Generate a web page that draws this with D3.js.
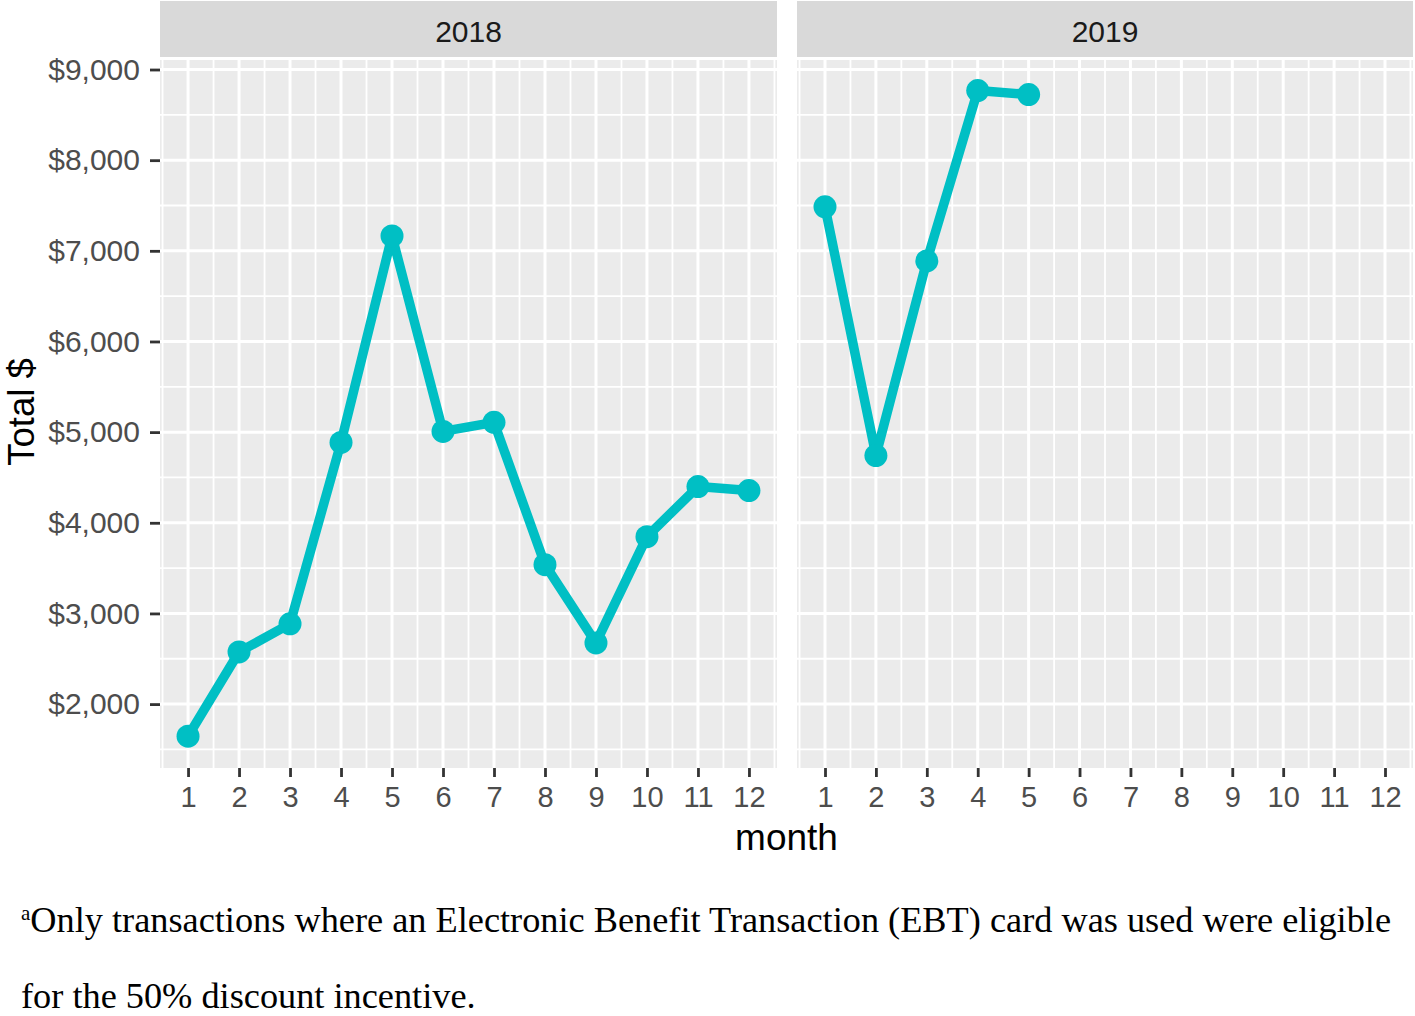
<!DOCTYPE html>
<html>
<head>
<meta charset="utf-8">
<script src="https://cdnjs.cloudflare.com/ajax/libs/d3/7.8.5/d3.min.js"></script>
<style>
  body { margin: 0; background: #fff; }
  svg { display: block; }
</style>
</head>
<body>
<svg id="chart"></svg>
<script>
const width = 1415;
const height = 1016;

// data
const years = ['2018', '2019'];
const months = [1, 2, 3, 4, 5, 6, 7, 8, 9, 10, 11, 12];
const total2018 = [1646, 2575, 2885, 4886, 7164, 5008, 5108, 3538, 2675, 3847, 4400, 4356];
const total2019 = [7485, 4742, 6888, 8768, 8724];
const yTicks = [2000, 3000, 4000, 5000, 6000, 7000, 8000, 9000];
const yMinor = [1500, 2500, 3500, 4500, 5500, 6500, 7500, 8500];
const footnote = [
  'Only transactions where an Electronic Benefit Transaction (EBT) card was used were eligible',
  'for the 50% discount incentive.'
];

const series = { '2018': total2018, '2019': total2019 };

const panelTop = 60;
const panelBottom = 768;
const panels = [{ x0: 160, x1: 777 }, { x0: 797, x1: 1413 }];
const stripTop = 1;
const sans = 'Liberation Sans, Arial, sans-serif';
const serif = 'Liberation Serif, Times New Roman, serif';

const svg = d3.select('#chart')
  .attr('width', width)
  .attr('height', height);

const y = d3.scaleLinear().domain([1295, 9105]).range([panelBottom, panelTop]);
const fmt = d3.format('$,');

years.forEach((yr, i) => {
  const p = panels[i];
  const x = d3.scaleLinear().domain([0.45, 12.55]).range([p.x0, p.x1]);
  const g = svg.append('g');

  // strip
  g.append('rect')
    .attr('x', p.x0).attr('y', stripTop)
    .attr('width', p.x1 - p.x0).attr('height', panelTop - 3 - stripTop)
    .attr('fill', '#d9d9d9');
  g.append('text')
    .attr('x', (p.x0 + p.x1) / 2).attr('y', 31)
    .attr('text-anchor', 'middle').attr('dominant-baseline', 'central')
    .attr('font-family', sans)
    .attr('font-size', 30).attr('fill', '#1a1a1a')
    .text(yr);

  // panel
  g.append('rect')
    .attr('x', p.x0).attr('y', panelTop)
    .attr('width', p.x1 - p.x0).attr('height', panelBottom - panelTop)
    .attr('fill', '#ebebeb');

  const xMinor = months.map(m => m + 0.5).concat([0.5]);
  g.selectAll('.vminor').data(xMinor).enter().append('line')
    .attr('x1', d => x(d)).attr('x2', d => x(d))
    .attr('y1', panelTop).attr('y2', panelBottom)
    .attr('stroke', '#fff').attr('stroke-width', 1.8);
  g.selectAll('.hminor').data(yMinor).enter().append('line')
    .attr('x1', p.x0).attr('x2', p.x1)
    .attr('y1', d => y(d)).attr('y2', d => y(d))
    .attr('stroke', '#fff').attr('stroke-width', 1.8);
  g.selectAll('.vmajor').data(months).enter().append('line')
    .attr('x1', d => x(d)).attr('x2', d => x(d))
    .attr('y1', panelTop).attr('y2', panelBottom)
    .attr('stroke', '#fff').attr('stroke-width', 3);
  g.selectAll('.hmajor').data(yTicks).enter().append('line')
    .attr('x1', p.x0).attr('x2', p.x1)
    .attr('y1', d => y(d)).attr('y2', d => y(d))
    .attr('stroke', '#fff').attr('stroke-width', 3);

  // x axis
  const xAxis = g.append('g')
    .attr('transform', `translate(0, ${panelBottom})`)
    .call(d3.axisBottom(x).tickValues(months).tickSize(9).tickPadding(9).tickFormat(d3.format('d')));
  xAxis.select('.domain').remove();
  xAxis.selectAll('line').attr('stroke', '#333').attr('stroke-width', 2.8);
  xAxis.selectAll('text')
    .attr('font-family', sans)
    .attr('font-size', 29).attr('fill', '#4d4d4d');

  // series
  const vals = series[yr].map((v, j) => ({ m: months[j], v: v }));
  g.append('path')
    .datum(vals)
    .attr('fill', 'none')
    .attr('stroke', '#00BFC4')
    .attr('stroke-width', 9.5)
    .attr('stroke-linejoin', 'round')
    .attr('d', d3.line().x(d => x(d.m)).y(d => y(d.v)));
  g.selectAll('circle').data(vals).enter().append('circle')
    .attr('cx', d => x(d.m)).attr('cy', d => y(d.v))
    .attr('r', 11.5).attr('fill', '#00BFC4');
});

// y axis
const yAxis = svg.append('g')
  .attr('transform', `translate(${panels[0].x0}, 0)`)
  .call(d3.axisLeft(y).tickValues(yTicks).tickSize(10).tickPadding(10).tickFormat(fmt));
yAxis.select('.domain').remove();
yAxis.selectAll('line').attr('stroke', '#333').attr('stroke-width', 2.8);
yAxis.selectAll('text')
  .attr('font-family', sans)
  .attr('font-size', 30).attr('fill', '#4d4d4d');

// axis titles
svg.append('text')
  .attr('x', (panels[0].x0 + panels[1].x1) / 2).attr('y', 850)
  .attr('text-anchor', 'middle')
  .attr('font-family', sans)
  .attr('font-size', 37).attr('fill', '#000')
  .text('month');
svg.append('text')
  .attr('transform', `translate(34, 412) rotate(-90)`)
  .attr('text-anchor', 'middle')
  .attr('font-family', sans)
  .attr('font-size', 36.5).attr('fill', '#000')
  .text('Total $');

// footnote
const fn1 = svg.append('text')
  .attr('x', 21).attr('y', 932)
  .attr('font-family', serif)
  .attr('font-size', 36.3).attr('fill', '#000');
fn1.append('tspan').attr('font-size', 21).attr('dy', -12).text('a');
fn1.append('tspan').attr('dy', 12).text(footnote[0]);
svg.append('text')
  .attr('x', 21).attr('y', 1008)
  .attr('font-family', serif)
  .attr('font-size', 36.3).attr('fill', '#000')
  .text(footnote[1]);
</script>
</body>
</html>
